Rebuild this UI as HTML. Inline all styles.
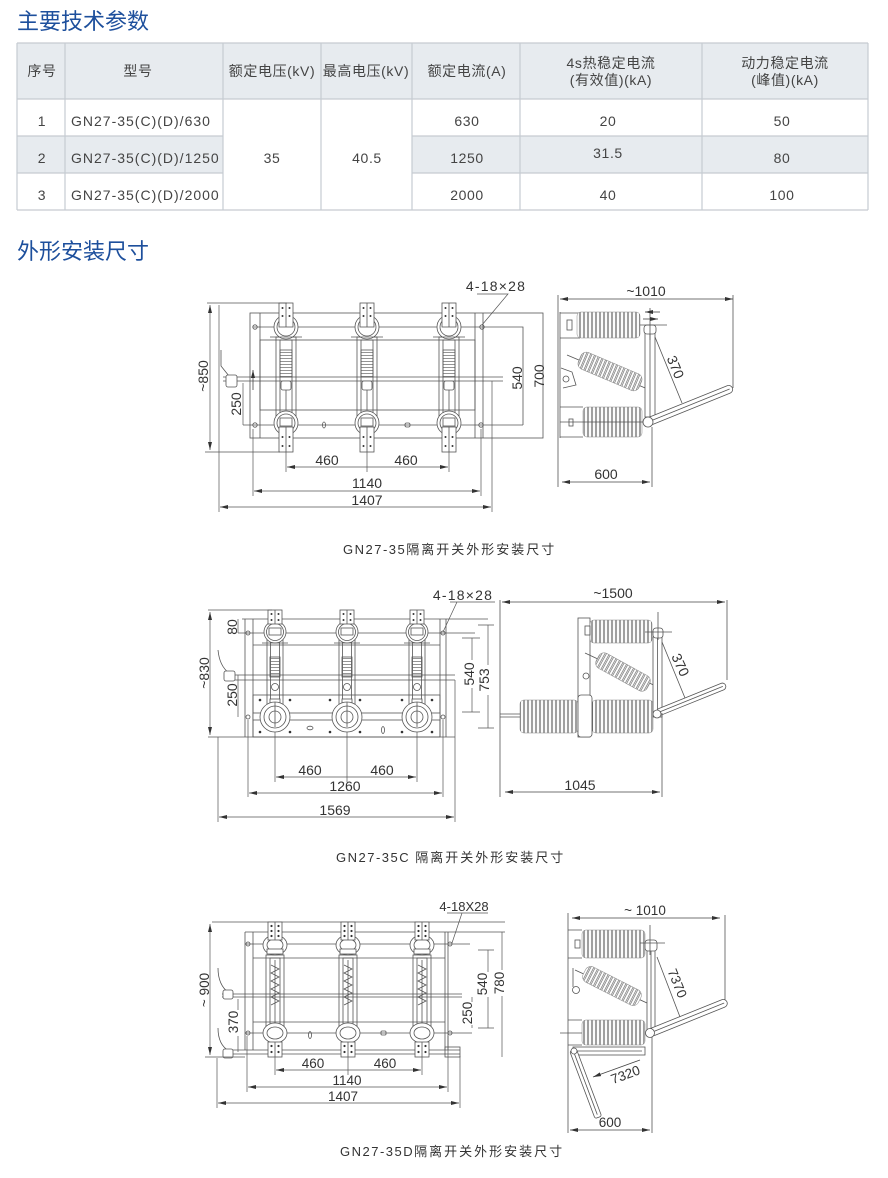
<!DOCTYPE html>
<html><head><meta charset="utf-8">
<style>html,body{margin:0;padding:0;background:#fff}svg{display:block}</style>
</head><body>
<svg xmlns="http://www.w3.org/2000/svg" width="888" height="1178" viewBox="0 0 888 1178" font-family="'Liberation Sans','Noto Sans CJK SC',sans-serif">
<defs>
<marker id="ar" viewBox="0 0 8 4" refX="8" refY="2" markerWidth="8" markerHeight="4" markerUnits="userSpaceOnUse" orient="auto-start-reverse"><path d="M0,0L8,2L0,4z" fill="#333"/></marker>
<pattern id="rib" width="4" height="4" patternUnits="userSpaceOnUse"><rect width="4" height="4" fill="#fff"/><path d="M0.7,0V4M3.3,0V4" stroke="#666" stroke-width="0.65"/></pattern>
<pattern id="hl" width="3" height="3" patternUnits="userSpaceOnUse"><path d="M0,1.5H3" stroke="#666" stroke-width="0.7"/></pattern>

<g id="p1" stroke="#555" stroke-width="0.8">
 <rect x="-10" y="337" width="20" height="80" fill="none"/>
 <rect x="-6" y="340" width="12" height="74" fill="none"/>
 <rect x="-6" y="350" width="12" height="27" fill="url(#hl)"/>
 <rect x="-5" y="381" width="10" height="9" rx="2" fill="#fff"/>
 <line x1="0" y1="390" x2="0" y2="410"/>
 <circle cx="0" cy="327" r="12" fill="#fff"/>
 <circle cx="0" cy="327" r="9" fill="none"/>
 <line x1="-16" y1="337" x2="16" y2="337"/>
 <rect x="-7" y="303" width="14" height="24" fill="#fff"/>
 <line x1="0" y1="303" x2="0" y2="327"/>
 <circle cx="0" cy="423" r="12" fill="#fff"/>
 <circle cx="0" cy="423" r="9" fill="none"/>
 <rect x="-6" y="418" width="12" height="8" fill="#fff"/>
 <rect x="-7" y="427" width="14" height="25" fill="#fff"/>
 <line x1="0" y1="427" x2="0" y2="452"/>
 <g fill="#333" stroke="none"><circle cx="-3.5" cy="308" r="1"/><circle cx="3.5" cy="308" r="1"/><circle cx="-3.5" cy="316" r="1"/><circle cx="3.5" cy="316" r="1"/><circle cx="-3.5" cy="437" r="1"/><circle cx="3.5" cy="437" r="1"/><circle cx="-3.5" cy="446" r="1"/><circle cx="3.5" cy="446" r="1"/></g>
</g>

<g id="p2" stroke="#555" stroke-width="0.8">
 <rect x="-8" y="638" width="16" height="72" fill="none"/>
 <rect x="-4.5" y="641" width="9" height="66" fill="none"/>
 <rect x="-5" y="657" width="10" height="20" fill="url(#hl)"/>
 <circle cx="0" cy="687" r="3.5" fill="#fff"/>
 <rect x="-5" y="699" width="10" height="8" fill="#fff"/>
 <circle cx="0" cy="632" r="11" fill="#fff"/><circle cx="0" cy="632" r="8.5" fill="none"/>
 <rect x="-6" y="628" width="12" height="7" fill="none"/>
 <line x1="-13" y1="643" x2="13" y2="643"/>
 <rect x="-7" y="610" width="14" height="14" fill="#fff"/>
 <line x1="0" y1="610" x2="0" y2="624"/>
 <g fill="#333" stroke="none"><circle cx="-3.5" cy="614" r="1"/><circle cx="3.5" cy="614" r="1"/><circle cx="-3.5" cy="620" r="1"/><circle cx="3.5" cy="620" r="1"/></g>
 <circle cx="0" cy="717" r="15" fill="#fff"/><circle cx="0" cy="717" r="11" fill="none"/><circle cx="0" cy="717" r="6" fill="none"/>
 <line x1="0" y1="702" x2="0" y2="727"/>
</g>

<g id="p3" stroke="#555" stroke-width="0.8">
 <rect x="-9" y="955" width="18" height="76" fill="none"/>
 <rect x="-5" y="958" width="10" height="70" fill="none"/>
 <path d="M-4,965L4,969L-4,973L4,977L-4,981L4,985L-4,989L4,993L-4,997L4,1001L-4,1005" fill="none"/>
 <line x1="0" y1="960" x2="0" y2="1025"/>
 <ellipse cx="0" cy="945" rx="12" ry="10" fill="#fff"/><ellipse cx="0" cy="945" rx="8" ry="6" fill="none"/>
 <rect x="-8" y="949" width="16" height="5" fill="#fff"/>
 <rect x="-7" y="922" width="14" height="18" fill="#fff"/>
 <line x1="0" y1="922" x2="0" y2="940"/>
 <g fill="#333" stroke="none"><circle cx="-3.5" cy="926" r="1.1"/><circle cx="3.5" cy="926" r="1.1"/><circle cx="-3.5" cy="931" r="1.1"/><circle cx="3.5" cy="931" r="1.1"/><circle cx="-3.5" cy="936" r="1.1"/><circle cx="3.5" cy="936" r="1.1"/></g>
 <ellipse cx="0" cy="1033" rx="12" ry="10" fill="#fff"/><ellipse cx="0" cy="1033" rx="8" ry="6" fill="none"/>
 <rect x="-7" y="1042" width="14" height="15" fill="#fff"/>
 <line x1="0" y1="1042" x2="0" y2="1057"/>
 <g fill="#333" stroke="none"><circle cx="-3.5" cy="1046" r="1.1"/><circle cx="3.5" cy="1046" r="1.1"/><circle cx="-3.5" cy="1052" r="1.1"/><circle cx="3.5" cy="1052" r="1.1"/></g>
</g>
</defs>

<!-- Titles -->
<g fill="#1d4f9c" font-size="22">
<text x="17" y="29">主要技术参数</text>
<text x="17" y="259">外形安装尺寸</text>
</g>

<!-- Table -->
<rect x="17" y="43" width="851" height="56" fill="#e7ebef"/>
<rect x="17" y="136" width="206" height="37" fill="#e7ebef"/>
<rect x="412" y="136" width="456" height="37" fill="#e7ebef"/>
<g stroke="#c6cbd1" stroke-width="1.2" fill="none">
<path d="M17,43H868M17,99H868M17,136H223M412,136H868M17,173H223M412,173H868M17,210H868"/>
<path d="M17,43V210M65,43V210M223,43V210M321,43V210M412,43V210M520,43V210M702,43V210M868,43V210"/>
</g>
<g fill="#444" font-size="14" text-anchor="middle" letter-spacing="0.6">
<text x="42" y="76">序号</text>
<text x="138" y="76">型号</text>
<text x="272" y="76">额定电压(kV)</text>
<text x="366" y="76">最高电压(kV)</text>
<text x="467" y="76">额定电流(A)</text>
<text x="611" y="68">4s热稳定电流</text>
<text x="611" y="85">(有效值)(kA)</text>
<text x="785" y="68">动力稳定电流</text>
<text x="785" y="85">(峰值)(kA)</text>
<text x="42" y="126">1</text>
<text x="42" y="163">2</text>
<text x="42" y="200">3</text>
<text x="272" y="163">35</text>
<text x="367" y="163">40.5</text>
<text x="467" y="126">630</text>
<text x="467" y="163">1250</text>
<text x="467" y="200">2000</text>
<text x="608" y="126">20</text>
<text x="608" y="158">31.5</text>
<text x="608" y="200">40</text>
<text x="782" y="126">50</text>
<text x="782" y="163">80</text>
<text x="782" y="200">100</text>
</g>
<g fill="#444" font-size="14" letter-spacing="1">
<text x="71" y="126">GN27-35(C)(D)/630</text>
<text x="71" y="163">GN27-35(C)(D)/1250</text>
<text x="71" y="200">GN27-35(C)(D)/2000</text>
</g>

<!-- ============ Drawing 1 ============ -->
<g stroke="#555" stroke-width="0.8" fill="none">
<rect x="250" y="313" width="293" height="125"/>
<path d="M260,313V438M475,313V438M483,313V438"/>
<rect x="260" y="340" width="215" height="70"/>
<path d="M253,327H523V425M243,425H523"/>
<circle cx="255" cy="327" r="2.2"/><circle cx="482" cy="327" r="2.2"/><circle cx="255" cy="425" r="2.2"/><circle cx="481" cy="425" r="2.2"/>
<ellipse cx="324" cy="425" rx="1.5" ry="3"/><rect x="405" y="423" width="5" height="4" rx="1.5"/>
<path d="M223,377H503M223,381H503"/>
<path d="M221,350V366L229,376"/><rect x="226" y="375" width="11" height="12" rx="2" fill="#fff"/>
</g>
<path d="M253,390V370" stroke="#444" stroke-width="0.8" marker-end="url(#ar)"/>
<use href="#p1" x="286"/><use href="#p1" x="367"/><use href="#p1" x="449"/>
<g stroke="#555" stroke-width="0.7" fill="none">
<path d="M207,303H287M205,452H280"/>
<path d="M210,305V450" marker-start="url(#ar)" marker-end="url(#ar)"/>
<path d="M243,383V425"/>
<path d="M286,452V472M367,452V472M449,452V472"/>
<path d="M287,467H448" marker-start="url(#ar)" marker-end="url(#ar)"/>
<path d="M253,429V496M481,429V496"/>
<path d="M254,491H480" marker-start="url(#ar)" marker-end="url(#ar)"/>
<path d="M219,305V512M492,381V512"/>
<path d="M220,507H491" marker-start="url(#ar)" marker-end="url(#ar)"/>
<path d="M477,294H508L482,325"/>
</g>
<g fill="#333" font-size="14" text-anchor="middle">
<text transform="translate(208,376) rotate(-90)">~850</text>
<text transform="translate(241,404) rotate(-90)">250</text>
<text transform="translate(522,378) rotate(-90)">540</text>
<text transform="translate(544,376) rotate(-90)">700</text>
<text x="327" y="465">460</text><text x="406" y="465">460</text>
<text x="367" y="488">1140</text>
<text x="367" y="505">1407</text>
<text x="496" y="291" letter-spacing="1.2">4-18×28</text>
</g>

<!-- side view 1 -->
<g stroke="#555" stroke-width="0.8" fill="none">
<path d="M558,295V487M733,295V388"/>
<path d="M560,312V438"/>
<path d="M560,313H580M560,338H580"/>
<rect x="567" y="320" width="5" height="10"/>
<rect x="577" y="312" width="63" height="26" rx="4" fill="url(#rib)" stroke="#888" stroke-width="0.5"/>
<path d="M567,355L650,390"/>
<g transform="translate(610,371.5) rotate(23)"><rect x="-33" y="-9" width="66" height="18" rx="6" fill="url(#rib)" stroke="#888" stroke-width="0.5"/></g>
<path d="M561,368L572,372L576,385L563,388"/><circle cx="566" cy="379" r="3"/>
<path d="M560,407H583M560,437H583"/>
<rect x="583" y="407" width="59" height="30" rx="4" fill="url(#rib)" stroke="#888" stroke-width="0.5"/>
<path d="M560,422H648"/>
<rect x="569" y="419" width="4" height="7"/>
<rect x="645" y="333" width="10" height="84" fill="#fff"/>
<path d="M650,333V417"/>
<rect x="644" y="325" width="12" height="9" rx="3" fill="#fff"/>
<path d="M640,325H667M650,308V340"/>
<g transform="translate(648,422) rotate(-22)"><rect x="0" y="-4" width="91" height="8" rx="4" fill="#fff"/><path d="M4,0H88"/></g>
<circle cx="648" cy="422" r="5" fill="#fff"/>
<path d="M655,337L682,403"/>
<path d="M652,427V487"/>
</g>
<g stroke="#444" stroke-width="0.8" fill="none">
<path d="M560,299H733" marker-start="url(#ar)" marker-end="url(#ar)"/>
<path d="M562,482H650" marker-start="url(#ar)" marker-end="url(#ar)"/>
<path d="M660,312H645" marker-end="url(#ar)"/>
<path d="M643,319H658" marker-end="url(#ar)"/>
</g>
<g fill="#333" font-size="14" text-anchor="middle">
<text x="646" y="296">~1010</text>
<text transform="translate(671,369) rotate(67)">370</text>
<text x="606" y="479">600</text>
</g>

<!-- ============ Drawing 2 ============ -->
<g stroke="#555" stroke-width="0.8" fill="none">
<path d="M242,619H488"/>
<path d="M245,619V737M253,619V737M440,619V737M446,619V737"/>
<path d="M238,633H475"/>
<path d="M253,645H440"/>
<rect x="253" y="695" width="187" height="42"/>
<path d="M208,737H455"/>
<path d="M225,675H455M225,680H455"/>
<rect x="253" y="713" width="187" height="7" fill="#fff"/>
<circle cx="248" cy="633" r="2"/><circle cx="443" cy="633" r="2"/><circle cx="248" cy="717" r="2"/><circle cx="443" cy="717" r="2"/>
<ellipse cx="310" cy="728" rx="3" ry="1.8"/><ellipse cx="383" cy="730" rx="1.5" ry="3.5"/>
<path d="M218,650C219,660 222,668 230,674"/><rect x="224" y="671" width="11" height="10" rx="2" fill="#fff"/>
</g>
<g fill="#333"><circle cx="260" cy="700" r="1.3"/><circle cx="290" cy="700" r="1.3"/><circle cx="330" cy="700" r="1.3"/><circle cx="360" cy="700" r="1.3"/><circle cx="402" cy="700" r="1.3"/><circle cx="432" cy="700" r="1.3"/><circle cx="260" cy="732" r="1.3"/><circle cx="290" cy="732" r="1.3"/><circle cx="330" cy="732" r="1.3"/><circle cx="360" cy="732" r="1.3"/><circle cx="402" cy="732" r="1.3"/><circle cx="432" cy="732" r="1.3"/></g>
<use href="#p2" x="275"/><use href="#p2" x="347"/><use href="#p2" x="417"/>
<g stroke="#555" stroke-width="0.7" fill="none">
<path d="M208,610H272"/>
<path d="M210,612V735" marker-start="url(#ar)" marker-end="url(#ar)"/>
<path d="M238,619V633M238,675V717"/>
<path d="M472,638V660M472,688V712"/>
<path d="M488,625V665M488,695V728"/>
<path d="M462,638H480M462,712H480M478,625H494M478,728H494"/>
<path d="M275,732V782M347,732V782M417,732V782"/>
<path d="M276,777H416" marker-start="url(#ar)" marker-end="url(#ar)"/>
<path d="M248,720V797M443,720V797"/>
<path d="M249,793H442" marker-start="url(#ar)" marker-end="url(#ar)"/>
<path d="M218,737V822M455,680V822"/>
<path d="M219,817H454" marker-start="url(#ar)" marker-end="url(#ar)"/>
<path d="M450,602H495M457,602L443,632"/>
</g>
<g fill="#333" font-size="14" text-anchor="middle">
<text transform="translate(209,673) rotate(-90)">~830</text>
<text transform="translate(237,627) rotate(-90)">80</text>
<text transform="translate(237,695) rotate(-90)">250</text>
<text transform="translate(474,674) rotate(-90)">540</text>
<text transform="translate(489,680) rotate(-90)">753</text>
<text x="310" y="775">460</text><text x="382" y="775">460</text>
<text x="345" y="791">1260</text>
<text x="335" y="815">1569</text>
<text x="463" y="600" letter-spacing="1.2">4-18×28</text>
</g>

<!-- side view 2 -->
<g stroke="#555" stroke-width="0.8" fill="none">
<path d="M500,600V797M727,600V680"/>
<rect x="578" y="618" width="12" height="119"/>
<rect x="590" y="620" width="62" height="23" rx="4" fill="url(#rib)" stroke="#888" stroke-width="0.5"/>
<rect x="585" y="626" width="5" height="9"/>
<path d="M585,653L660,688"/>
<g transform="translate(623,672) rotate(28.7)"><rect x="-29" y="-8.5" width="58" height="17" rx="6" fill="url(#rib)" stroke="#888" stroke-width="0.5"/></g>
<circle cx="586" cy="676" r="3"/>
<rect x="520" y="700" width="58" height="33" rx="4" fill="url(#rib)" stroke="#888" stroke-width="0.5"/>
<rect x="592" y="700" width="61" height="33" rx="4" fill="url(#rib)" stroke="#888" stroke-width="0.5"/>
<rect x="578" y="695" width="14" height="42" rx="3" fill="#fff"/>
<path d="M500,714H520M500,717H520"/>
<rect x="653" y="637" width="9" height="80" fill="#fff"/><path d="M657.5,637V717"/>
<rect x="653" y="628" width="10" height="10" rx="3" fill="#fff"/>
<path d="M645,632H672M658,612V640"/>
<g transform="translate(657,713) rotate(-22)"><rect x="0" y="-3.5" width="74" height="7" rx="3.5" fill="#fff"/><path d="M3,0H71"/></g>
<circle cx="657" cy="714" r="4" fill="#fff"/>
<path d="M662,642L685,698"/>
<path d="M662,713V797"/>
</g>
<g stroke="#444" stroke-width="0.8" fill="none">
<path d="M502,602H725" marker-start="url(#ar)" marker-end="url(#ar)"/>
<path d="M505,792H660" marker-start="url(#ar)" marker-end="url(#ar)"/>
</g>
<g fill="#333" font-size="14" text-anchor="middle">
<text x="613" y="598">~1500</text>
<text transform="translate(676,667) rotate(65)">370</text>
<text x="580" y="790">1045</text>
</g>

<!-- ============ Drawing 3 ============ -->
<g stroke="#555" stroke-width="0.8" fill="none">
<path d="M212,922H505"/>
<path d="M245,932H505"/>
<path d="M245,932V1050M253,932V1050M445,932V1050M448,932V1050"/>
<path d="M245,944H470"/>
<path d="M253,958H445M253,1022H445"/>
<path d="M245,1033H472"/>
<path d="M228,1050H460M228,1054H460"/>
<rect x="445" y="1047" width="15" height="10"/>
<path d="M222,994H462M222,997H462"/>
<circle cx="248" cy="944" r="2"/><circle cx="450" cy="944" r="2"/><circle cx="248" cy="1033" r="2"/><circle cx="450" cy="1033" r="2"/>
<ellipse cx="310" cy="1035" rx="1.5" ry="3.5"/><rect x="381" y="1031" width="5" height="4" rx="1"/>
<path d="M218,968C218,980 222,988 229,993"/><rect x="223" y="990" width="10" height="9" rx="2" fill="#fff"/>
<path d="M218,1028C218,1040 222,1047 229,1051"/><rect x="223" y="1049" width="10" height="9" rx="2" fill="#fff"/>
</g>
<use href="#p3" x="275"/><use href="#p3" x="348"/><use href="#p3" x="422"/>
<g stroke="#555" stroke-width="0.7" fill="none">
<path d="M210,924V1055" marker-start="url(#ar)" marker-end="url(#ar)"/>
<path d="M205,1057H245"/>
<path d="M238,999V1010M238,1036V1052"/>
<path d="M488,950V972M488,997V1028"/>
<path d="M502,932V970M502,996V1057"/>
<path d="M472,997V1002M472,1025V1028"/>
<path d="M478,950H494M478,1028H494"/>
<path d="M275,1057V1075M348,1057V1075M422,1057V1075"/>
<path d="M276,1070H421" marker-start="url(#ar)" marker-end="url(#ar)"/>
<path d="M247,1036V1092M448,1036V1092"/>
<path d="M248,1087H447" marker-start="url(#ar)" marker-end="url(#ar)"/>
<path d="M217,1058V1108M460,1056V1108"/>
<path d="M218,1103H459" marker-start="url(#ar)" marker-end="url(#ar)"/>
<path d="M447,913H488M462,913L452,943"/>
</g>
<g fill="#333" font-size="13.5" text-anchor="middle">
<text transform="translate(209,990) rotate(-90)">~ 900</text>
<text transform="translate(238,1022) rotate(-90)">370</text>
<text transform="translate(487,984) rotate(-90)">540</text>
<text transform="translate(504,983) rotate(-90)">780</text>
<text transform="translate(472,1013) rotate(-90)">250</text>
<text x="313" y="1068">460</text><text x="385" y="1068">460</text>
<text x="347" y="1085">1140</text>
<text x="343" y="1101">1407</text>
<text x="464" y="911" font-size="13">4-18X28</text>
</g>

<!-- side view 3 -->
<g stroke="#555" stroke-width="0.8" fill="none">
<path d="M568,913V1133M725,915V1000"/>
<path d="M568,930H582M568,958H582"/>
<rect x="575" y="940" width="5" height="8"/>
<rect x="582" y="930" width="63" height="28" rx="4" fill="url(#rib)" stroke="#888" stroke-width="0.5"/>
<path d="M575,970L647,1003"/>
<g transform="translate(612,986) rotate(27)"><rect x="-31" y="-8.5" width="62" height="17" rx="6" fill="url(#rib)" stroke="#888" stroke-width="0.5"/></g>
<path d="M573,968V987"/><circle cx="576" cy="990" r="3.5"/>
<path d="M568,1020H582M568,1045H582"/>
<rect x="582" y="1020" width="63" height="25" rx="4" fill="url(#rib)" stroke="#888" stroke-width="0.5"/>
<path d="M560,1033H582"/>
<rect x="647" y="948" width="8" height="82" fill="#fff"/><path d="M651,948V1030"/>
<rect x="645" y="940" width="12" height="11" rx="3" fill="#fff"/>
<path d="M640,943H665M650,925V955"/>
<rect x="573" y="1047" width="72" height="8" fill="#fff"/><path d="M576,1051H642"/>
<g transform="translate(573,1050) rotate(69.4)"><rect x="0" y="-3.5" width="72" height="7" rx="2" fill="#fff"/><path d="M3,0H69"/></g>
<circle cx="574" cy="1051" r="3" fill="#fff"/>
<g transform="translate(650,1033) rotate(-22)"><rect x="0" y="-4" width="83" height="8" rx="4" fill="#fff"/><path d="M4,0H80"/></g>
<circle cx="650" cy="1033" r="4.5" fill="#fff"/>
<path d="M657,957L680,1017"/>
<path d="M652,1037V1133"/>
</g>
<g stroke="#444" stroke-width="0.8" fill="none">
<path d="M572,918H720" marker-start="url(#ar)" marker-end="url(#ar)"/>
<path d="M593,1077L640,1060" marker-start="url(#ar)"/>
<path d="M570,1130H650" marker-start="url(#ar)" marker-end="url(#ar)"/>
</g>
<g fill="#333" font-size="13.5" text-anchor="middle">
<text x="645" y="915">~ 1010</text>
<text transform="translate(673,985) rotate(68)">7370</text>
<text transform="translate(627,1079) rotate(-20)">7320</text>
<text x="610" y="1127">600</text>
</g>

<!-- captions -->
<g font-size="13" fill="#333">
<text x="343" y="554"><tspan letter-spacing="1.5">GN27-35</tspan><tspan letter-spacing="2">隔离开关外形安装尺寸</tspan></text>
<text x="336" y="862"><tspan letter-spacing="1.5">GN27-35C </tspan><tspan letter-spacing="2">隔离开关外形安装尺寸</tspan></text>
<text x="340" y="1156"><tspan letter-spacing="1.5">GN27-35D</tspan><tspan letter-spacing="2">隔离开关外形安装尺寸</tspan></text>
</g>
</svg>
</body></html>
